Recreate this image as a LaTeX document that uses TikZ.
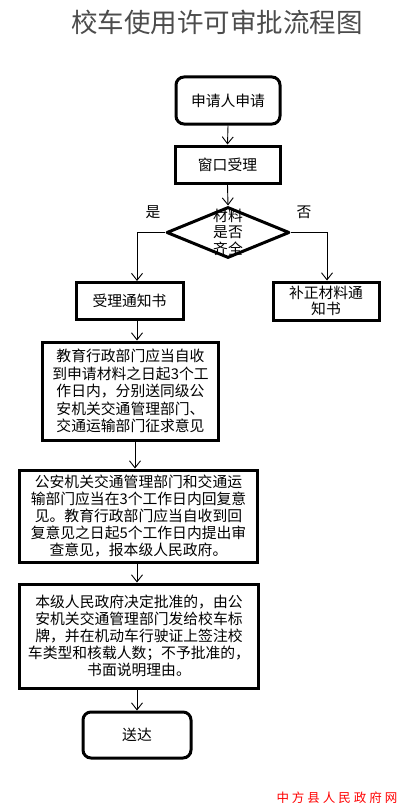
\documentclass[tikz,border=0pt]{standalone}
\usepackage{fontspec}
\setmainfont{Noto Sans CJK SC}
\usetikzlibrary{arrows.meta,shapes.geometric}
\begin{document}
\begin{tikzpicture}[x=1bp,y=-1bp,
  box/.style={draw, line width=3bp, align=center, inner sep=0pt, font=\fontsize{14.8bp}{17.5bp}\selectfont},
  rbox/.style={box, rounded corners=8bp},
  arr/.style={line width=0.9bp, -{Straight Barb[length=7bp,width=11bp]}},
  lbl/.style={font=\fontsize{14.8bp}{17bp}\selectfont}]
\useasboundingbox (0,0) rectangle (406,812);
\fill[white] (0,0) rectangle (406,812);
\coordinate (colL) at (137,0);
\coordinate (col3) at (135,0);
\coordinate (colR) at (327,0);

\node[font=\fontsize{26.5bp}{30bp}\selectfont, text=black!70] (title) at (217,22) {校车使用许可审批流程图};

\node[rbox, minimum width=104bp, minimum height=47bp] (n1) at (228,100.5) {申请人申请};
\node[box, minimum width=105bp, minimum height=37bp] (n2) at (227.5,164.5) {窗口受理};
\node[draw, diamond, line width=3bp, line join=round, minimum width=123bp, minimum height=51bp, inner sep=0pt] (d) at (228,232.5) {};
\node[lbl, align=center, font=\fontsize{14.8bp}{16.5bp}\selectfont] (dt) at (228,232) {材料\\是否\\齐全};
\node[lbl] (yes) at (153,212) {是};
\node[lbl] (no) at (304,212) {否};

\node[box, minimum width=107bp, minimum height=37bp] (acc) at (129.5,301) {受理通知书};
\node[box, minimum width=106bp, minimum height=38bp, font=\fontsize{14.8bp}{16.5bp}\selectfont] (rej) at (326,301) {补正材料通\\知书};

\node[box, minimum width=175bp, minimum height=98bp] (b3) at (130.5,391)
  {教育行政部门应当自收\\到申请材料之日起3个工\\作日内，分别送同级公\\安机关交通管理部门、\\交通运输部门征求意见};
\node[box, minimum width=237bp, minimum height=92bp, font=\fontsize{14.8bp}{17bp}\selectfont] (b4) at (138.5,516)
  {公安机关交通管理部门和交通运\\输部门应当在3个工作日内回复意\\见。教育行政部门应当自收到回\\复意见之日起5个工作日内提出审\\查意见，报本级人民政府。};
\node[box, minimum width=238bp, minimum height=104bp, font=\fontsize{14.8bp}{17bp}\selectfont] (b5) at (139,636)
  {本级人民政府决定批准的，由公\\安机关交通管理部门发给校车标\\牌，并在机动车行驶证上签注校\\车类型和核载人数；不予批准的，\\书面说明理由。};
\node[rbox, minimum width=108bp, minimum height=46bp] (n7) at (137,735) {送达};

\draw[arr] (n1.south) -- (n2.north);
\draw[arr] (n2.south) -- (d.north);
\draw[arr] (d.west) -| (acc.north -| colL);
\draw[arr] (d.east) -| (rej.north -| colR);
\draw[arr] (acc.south -| colL) -- (b3.north -| colL);
\draw[arr] (b3.south -| col3) -- (b4.north -| col3);
\draw[arr] (b4.south -| colL) -- (b5.north -| colL);
\draw[arr] (b5.south -| colL) -- (n7.north -| colL);

\node[text=red, font=\fontsize{12.5bp}{14bp}\selectfont] (wm) at (337,798) {中\kern3bp 方\kern3bp 县\kern3bp 人\kern3bp 民\kern3bp 政\kern3bp 府\kern3bp 网};
\end{tikzpicture}
\end{document}
